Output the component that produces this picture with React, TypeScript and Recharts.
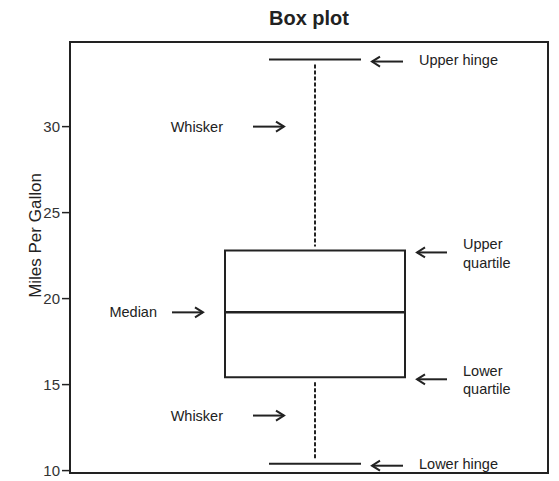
import { ComposedChart, XAxis, YAxis, ReferenceArea, ReferenceLine, ReferenceDot } from 'recharts';

// five-number summary of the plotted variable
const STAT_NAMES = ['min', 'q1', 'median', 'q3', 'max'];
const STAT_VALUES = [10.4, 15.425, 19.2, 22.8, 33.9];
const Y_TICKS = [10, 15, 20, 25, 30];
const Y_DOMAIN = [9.86, 34.92];

const stats: Record<string, number> = {};
STAT_NAMES.forEach((n, i) => (stats[n] = STAT_VALUES[i]));

// annotation labels and the value each one points at
const NOTE_LABELS = [['Upper hinge'], ['Upper', 'quartile'], ['Median'], ['Lower', 'quartile'], ['Lower hinge'], ['Whisker'], ['Whisker']];
const NOTE_VALUES = [stats.max, stats.q3, stats.median, stats.q1, stats.min, 30, 13.2];

// horizontal layout (x axis runs 70..548 so it lines up with the plot box)
const X_DOMAIN = [70, 548];
const BOX_X = [225, 405];
const HINGE_X = [269, 361];
const MID_X = 315;
const NOTE_LAYOUT = [
  { side: 'right', tip: 372, tail: 403, textX: 419, dy: [0] },
  { side: 'right', tip: 417, tail: 447, textX: 463, dy: [-6, 13] },
  { side: 'left', tip: 203, tail: 172, textX: 157, dy: [0] },
  { side: 'right', tip: 417, tail: 447, textX: 463, dy: [-6, 12] },
  { side: 'right', tip: 372, tail: 403, textX: 419, dy: [0] },
  { side: 'left', tip: 284, tail: 253, textX: 223, dy: [0] },
  { side: 'left', tip: 284, tail: 253, textX: 223, dy: [0] },
];

const INK = '#222';
const FONT = '"Liberation Sans", Arial, sans-serif';

function Note({ cy, scaleX, label, lay }: any) {
  const dir = lay.tip > lay.tail ? 1 : -1;
  const tip = scaleX(lay.tip);
  const tail = scaleX(lay.tail);
  const tx = scaleX(lay.textX);
  const ay = lay.side === 'right' ? cy + 2 : cy;
  return (
    <g>
      <line x1={tail} y1={ay} x2={tip} y2={ay} stroke={INK} strokeWidth={2} />
      <polyline points={`${tip - dir * 8},${ay - 5} ${tip},${ay} ${tip - dir * 8},${ay + 5}`} fill="none" stroke={INK} strokeWidth={2} />
      {label.map((t: string, i: number) => (
        <text key={i} x={tx} y={cy + lay.dy[i]} dominantBaseline="central" textAnchor={lay.side === 'right' ? 'start' : 'end'} fontSize={14.5} fill={INK} fontFamily={FONT}>
          {t}
        </text>
      ))}
    </g>
  );
}

// dashed whisker, pulled back a few pixels from the box and the hinge
function Whisker(p: any) {
  const y1 = Math.min(p.y1, p.y2) + 5;
  const y2 = Math.max(p.y1, p.y2) - 4;
  return <line x1={p.x1} x2={p.x2} y1={y1} y2={y2} stroke={INK} strokeWidth={2} strokeDasharray="4 2" />;
}

export default function App() {
  const plotLeft = 70;
  const plotWidth = 478;
  const scaleX = (v: number) => plotLeft + ((v - X_DOMAIN[0]) / (X_DOMAIN[1] - X_DOMAIN[0])) * plotWidth;
  return (
    <div style={{ position: 'absolute', left: 0, top: 0, width: 559, height: 481, background: '#fff', fontFamily: FONT }}>
      <div style={{ position: 'absolute', left: 70, top: 8, width: 478, textAlign: 'center', fontSize: 20, lineHeight: '20px', fontWeight: 'bold', color: INK }}>
        Box plot
      </div>
      <ComposedChart width={559} height={481} data={[{ x: MID_X, ...stats }]} margin={{ top: 42, right: 11, bottom: 8, left: 0 }}>
        <XAxis type="number" dataKey="x" domain={X_DOMAIN} hide />
        <YAxis
          type="number"
          domain={Y_DOMAIN}
          allowDataOverflow
          ticks={Y_TICKS}
          width={70}
          tickSize={8}
          tickLine={{ stroke: INK, strokeWidth: 1.5 }}
          axisLine={false}
          tick={{ fill: '#333', fontSize: 15, fontFamily: FONT }}
          label={{
            content: ({ viewBox }: any) => (
              <text
                x={viewBox.x + 35}
                y={viewBox.y + viewBox.height / 2 - 22}
                transform={`rotate(-90 ${viewBox.x + 35} ${viewBox.y + viewBox.height / 2 - 22})`}
                textAnchor="middle"
                dominantBaseline="central"
                fontSize={17}
                fill={INK}
                fontFamily={FONT}
              >
                Miles Per Gallon
              </text>
            ),
          }}
        />
        <ReferenceArea x1={X_DOMAIN[0]} x2={X_DOMAIN[1]} y1={Y_DOMAIN[0]} y2={Y_DOMAIN[1]} fill="none" fillOpacity={0} stroke={INK} strokeWidth={2} ifOverflow="visible" />
        <ReferenceLine segment={[{ x: MID_X, y: stats.q3 }, { x: MID_X, y: stats.max }]} shape={Whisker} />
        <ReferenceLine segment={[{ x: MID_X, y: stats.min }, { x: MID_X, y: stats.q1 }]} shape={Whisker} />
        <ReferenceArea x1={BOX_X[0]} x2={BOX_X[1]} y1={stats.q1} y2={stats.q3} fill="#fff" fillOpacity={1} stroke={INK} strokeWidth={2} />
        <ReferenceLine segment={[{ x: BOX_X[0], y: stats.median }, { x: BOX_X[1], y: stats.median }]} stroke={INK} strokeWidth={2.5} />
        <ReferenceLine segment={[{ x: HINGE_X[0], y: stats.max }, { x: HINGE_X[1], y: stats.max }]} stroke={INK} strokeWidth={2} />
        <ReferenceLine segment={[{ x: HINGE_X[0], y: stats.min }, { x: HINGE_X[1], y: stats.min }]} stroke={INK} strokeWidth={2} />
        {NOTE_LABELS.map((label, i) => (
          <ReferenceDot
            key={i}
            x={NOTE_LAYOUT[i].tail}
            y={NOTE_VALUES[i]}
            shape={(p: any) => <Note cy={p.cy} scaleX={scaleX} label={label} lay={NOTE_LAYOUT[i]} />}
          />
        ))}
      </ComposedChart>
    </div>
  );
}
